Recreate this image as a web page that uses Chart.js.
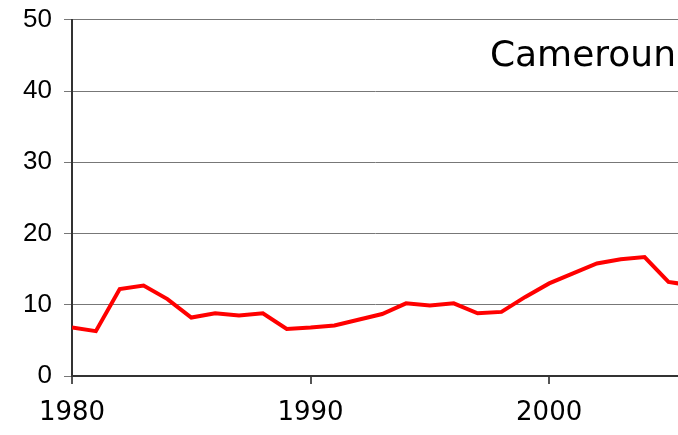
<!DOCTYPE html>
<html>
<head>
<meta charset="utf-8">
<script src="https://cdn.jsdelivr.net/npm/chart.js@4"></script>
<style>
  html, body { margin: 0; padding: 0; background: #fff; }
  #wrap { position: relative; width: 678px; height: 435px; }
  #label {
    position: absolute; right: 2px; top: 33px;
    font-family: "DejaVu Sans", sans-serif; font-size: 36px; color: #000;
  }
</style>
</head>
<body>
<div id="wrap">
  <canvas id="chart" width="678" height="435"></canvas>
  <div id="label">Cameroun</div>
</div>
<script>
// years and values
const years = [1980, 1981, 1982, 1983, 1984, 1985, 1986, 1987, 1988, 1989, 1990,
               1991, 1992, 1993, 1994, 1995, 1996, 1997, 1998, 1999, 2000,
               2001, 2002, 2003, 2004, 2005, 2006];
const values = [6.8, 6.3, 12.2, 12.7, 10.8, 8.2, 8.8, 8.5, 8.8, 6.6, 6.8,
                7.1, 7.9, 8.7, 10.2, 9.9, 10.2, 8.8, 9.0, 11.1, 13.0,
                14.4, 15.8, 16.4, 16.7, 13.2, 12.7];
const xTicks = [1980, 1990, 2000];
const yTicks = [0, 10, 20, 30, 40, 50];

const ctx = document.getElementById('chart').getContext('2d');
new Chart(ctx, {
    type: 'line',
    data: {
        datasets: [{
            data: years.map((y, i) => ({ x: y, y: values[i] })),
            borderColor: '#ff0000',
            borderWidth: 4,
            pointRadius: 0,
            tension: 0,
            clip: 0
        }]
    },
    options: {
        responsive: false,
        animation: false,
        layout: { padding: { top: 0, right: 0, left: 0, bottom: 0 } },
        plugins: { legend: { display: false }, tooltip: { enabled: false } },
        scales: {
            x: {
                type: 'linear',
                min: 1980,
                max: 2005.4,
                afterBuildTicks: axis => { axis.ticks = xTicks.map(v => ({ value: v })); },
                afterFit: axis => { axis.height = 59; },
                ticks: {
                    color: '#000',
                    font: { family: 'DejaVu Sans', size: 26 },
                    maxRotation: 0,
                    padding: 14,
                    callback: v => String(v)
                },
                grid: { drawOnChartArea: false, tickLength: 8, color: '#555', lineWidth: 2 },
                border: { color: '#333', width: 2 }
            },
            y: {
                min: 0,
                max: 50,
                afterBuildTicks: axis => { axis.ticks = yTicks.map(v => ({ value: v })); },
                afterFit: axis => { axis.width = 72; },
                ticks: {
                    color: '#000',
                    font: { family: 'Liberation Sans', size: 26, lineHeight: 0.6 },
                    padding: 12
                },
                grid: { color: '#777', lineWidth: 1, tickLength: 8 },
                border: { color: '#333', width: 2 }
            }
        }
    }
});
</script>
</body>
</html>
